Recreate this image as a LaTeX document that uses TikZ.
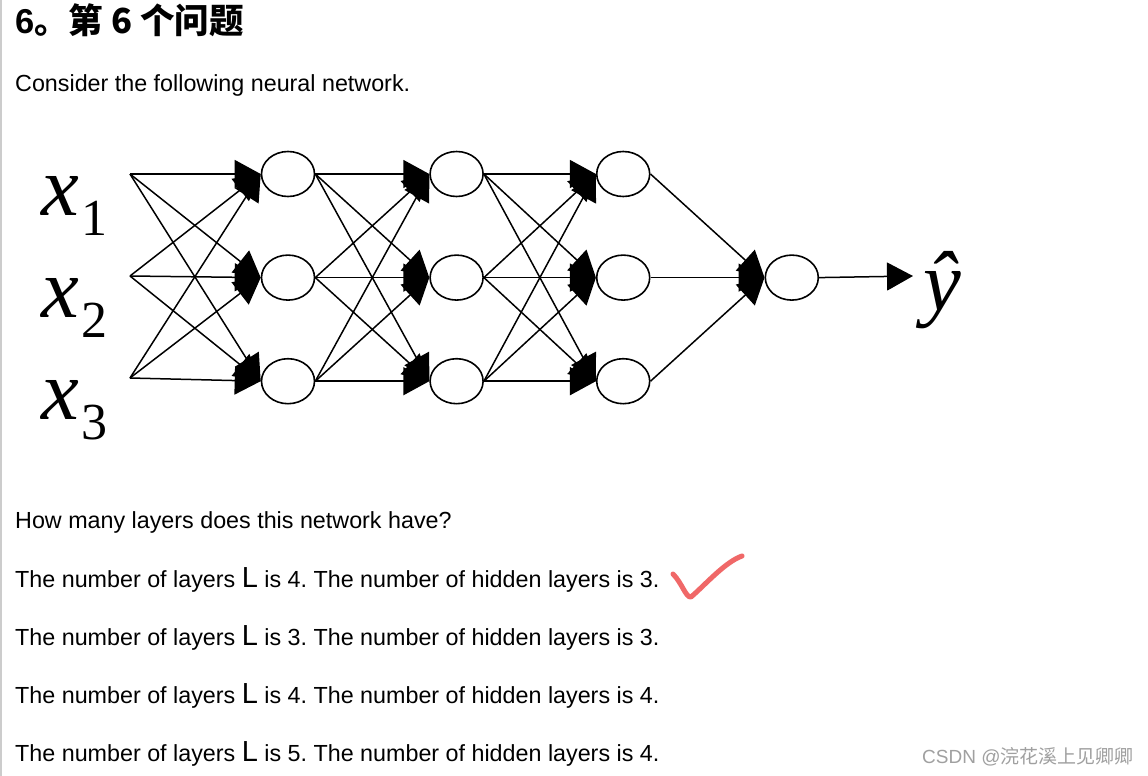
\documentclass[tikz,border=0pt]{standalone}
\usepackage{fontspec}
\usepackage{graphicx}
\setmainfont{Liberation Sans}
\newfontfamily\cjk{Noto Sans CJK SC}
\newfontfamily\varfont{Liberation Serif}
\usetikzlibrary{shapes.geometric, arrows.meta, positioning}
\definecolor{checkred}{RGB}{240, 104, 104}
\definecolor{markgray}{RGB}{160, 160, 160}
\newcommand{\netvar}[2]{{\varfont\fontsize{85}{85}\selectfont\itshape #1}\hspace{3pt}\raisebox{-20pt}{\varfont\fontsize{52}{52}\selectfont #2}}
\newcommand{\bigL}{{\fontsize{29}{29}\selectfont L}}
\frenchspacing

\begin{document}
\begin{tikzpicture}[
    x=1pt, y=-1pt,
    neuron/.style={ellipse, draw=black, line width=1.6pt, fill=white, minimum width=53pt, minimum height=45pt, inner sep=0pt},
    arrow/.style={draw, line width=1.5pt, -{Triangle[length=26pt, width=28pt]}},
    qtext/.style={anchor=base west, inner sep=0pt, font=\fontsize{23.3}{23.3}\selectfont},
    varlabel/.style={anchor=base west, inner sep=0pt}
]

    \fill[white] (0,0) rectangle (1148,776);
    \useasboundingbox (0,0) rectangle (1148,776);
    \draw[gray!40, line width=1.5pt] (1,0) -- (1,776);

    \node[qtext, font=\fontsize{34.5}{34.5}\selectfont\bfseries] (title) at (15,34) {6\cjk{。第} 6 \cjk{个问题}};
    \node[qtext] (intro) at (15,91) {Consider the following neural network.};

    \coordinate (in1) at (130,174);
    \coordinate (in2) at (130,276);
    \coordinate (in3) at (130,378);
    \node[varlabel] (x1) at (41,215) {\netvar{x}{1}};
    \node[varlabel] (x2) at (41,317) {\netvar{x}{2}};
    \node[varlabel] (x3) at (41,419) {\netvar{x}{3}};

    \node[neuron] (a1) at (288,174) {};
    \node[neuron, below=57pt of a1] (a2) {};
    \node[neuron, below=57pt of a2] (a3) {};
    \node[neuron, right=114pt of a1] (b1) {};
    \node[neuron, right=114pt of a2] (b2) {};
    \node[neuron, right=114pt of a3] (b3) {};
    \node[neuron, right=112pt of b1] (c1) {};
    \node[neuron, right=112pt of b2] (c2) {};
    \node[neuron, right=112pt of b3] (c3) {};
    \node[neuron, right=114pt of c2] (out) {};
    \coordinate (yend) at (913,276);
    \node[varlabel] (yhat) at (923,310) {{\varfont\fontsize{85}{85}\selectfont\itshape ŷ}};

    \path (in1) edge[arrow] (a1.west) edge[arrow] (a2.west) edge[arrow] (a3.west);
    \path (in2) edge[arrow] (a1.west) edge[arrow] (a2.west) edge[arrow] (a3.west);
    \path (in3) edge[arrow] (a1.west) edge[arrow] (a2.west) edge[arrow] (a3.west);
    \path (a1.east) edge[arrow] (b1.west) edge[arrow] (b2.west) edge[arrow] (b3.west);
    \path (a2.east) edge[arrow] (b1.west) edge[arrow] (b2.west) edge[arrow] (b3.west);
    \path (a3.east) edge[arrow] (b1.west) edge[arrow] (b2.west) edge[arrow] (b3.west);
    \path (b1.east) edge[arrow] (c1.west) edge[arrow] (c2.west) edge[arrow] (c3.west);
    \path (b2.east) edge[arrow] (c1.west) edge[arrow] (c2.west) edge[arrow] (c3.west);
    \path (b3.east) edge[arrow] (c1.west) edge[arrow] (c2.west) edge[arrow] (c3.west);
    \path (c1.east) edge[arrow] (out.west);
    \path (c2.east) edge[arrow] (out.west);
    \path (c3.east) edge[arrow] (out.west);
    \path (out.east) edge[arrow] (yend);

    \node[qtext] (question) at (15,528) {How many layers does this network have?};
    \node[qtext] (opt1) at (15,587) {The number of layers \bigL{} is 4. The number of hidden layers is 3.};
    \node[qtext] (opt2) at (15,645) {The number of layers \bigL{} is 3. The number of hidden layers is 3.};
    \node[qtext] (opt3) at (15,703) {The number of layers \bigL{} is 4. The number of hidden layers is 4.};
    \node[qtext] (opt4) at (15,761) {The number of layers \bigL{} is 5. The number of hidden layers is 4.};
    \draw[checkred, line width=5pt, line cap=round, line join=round] (673,574) .. controls (682,583) and (686,598) .. (691,597) .. controls (705,585) and (725,562) .. (742,556);

    \node[anchor=base west, inner sep=0pt, text=markgray, font=\fontsize{19}{19}\selectfont] (watermark) at (922,763) {CSDN @\cjk{浣花溪上见卿卿}};

\end{tikzpicture}
\end{document}
